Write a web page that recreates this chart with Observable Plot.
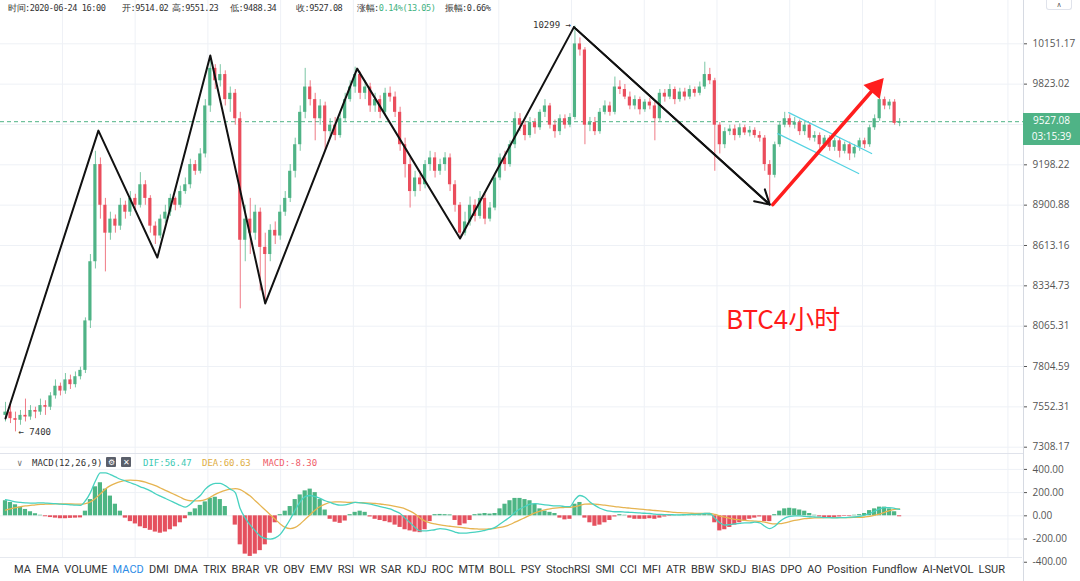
<!DOCTYPE html>
<html><head><meta charset="utf-8">
<script src="https://cdn.jsdelivr.net/npm/d3@7"></script>
<script src="https://cdn.jsdelivr.net/npm/@observablehq/plot@0.6"></script>
<style>
body{margin:0;background:#fff;}
#wrap{position:relative;width:1080px;height:581px;overflow:hidden;font-family:"Open Sans",sans-serif;background:#fff;}
#wrap svg{position:absolute;left:0;overflow:visible;}
.hd{position:absolute;top:3px;font:8.6px "DejaVu Sans Mono",monospace;letter-spacing:-0.45px;color:#333;white-space:nowrap;}
.mh{position:absolute;top:458px;font:9px "DejaVu Sans Mono",monospace;white-space:nowrap;}
.box{position:absolute;left:1023px;width:57px;background:#4fb386;color:#fff;font:10px "Open Sans",sans-serif;text-align:center;}
#tabs{position:absolute;left:0;top:557px;width:1022px;height:24px;background:#fff;border-top:1px solid #e6e9ef;display:flex;justify-content:space-between;align-items:center;box-sizing:border-box;padding:0 17px 0 14px;font:11px "Liberation Sans Narrow","Roboto",sans-serif;color:#333;}
.icon{position:absolute;top:457px;width:10px;height:10px;background:#5a5f6a;color:#fff;font-size:8px;line-height:10px;text-align:center;border-radius:1px;}
</style></head><body><div id="wrap"></div>
<script>
// ---- Data (BTC 4h) ----
const opens=[7500,7520,7480,7470,7500,7490,7530,7520,7560,7550,
7620,7680,7650,7720,7690,7740,7780,8100,8500,9200,
8900,8700,8800,8750,8900,8850,8950,8900,9050,8950,
8750,8680,8800,8850,8950,8900,9000,9050,9200,9150,
9280,9650,9950,9850,9900,9700,9750,9550,8650,8800,
8700,8850,8600,8550,8720,8680,8850,8950,9150,9350,
9600,9800,9700,9550,9650,9450,9500,9420,9550,9700,
9800,9900,9750,9800,9650,9700,9600,9750,9720,9600,
9350,9200,9000,9100,9050,9200,9250,9150,9200,9250,
9050,8900,8700,8780,8900,8820,8950,8800,8880,9100,
9250,9200,9350,9550,9500,9420,9520,9480,9600,9650,
9500,9450,9550,9500,9560,10150,10100,9500,9520,9450,
9600,9650,9600,9800,9780,9720,9650,9700,9620,9680,
9650,9550,9750,9720,9780,9700,9760,9720,9780,9750,
9800,9900,9850,9500,9350,9450,9470,9420,9480,9440,
9460,9420,9400,9200,9120,9350,9500,9550,9500,9520,
9450,9500,9400,9420,9350,9400,9330,9380,9300,9350,
9280,9330,9380,9350,9480,9550,9700,9650,9680,9514.02];
const highs=[7580,7560,7520,7530,7600,7560,7550,7600,7590,7640,
7720,7700,7760,7750,7770,7800,8120,8550,9300,9250,
8950,8850,8830,8950,8930,9000,8980,9140,9080,8970,
8780,8830,8900,8980,8960,9040,9100,9240,9230,9320,
9700,10020,9980,9980,9930,9800,9780,9600,8900,8950,
8900,8880,8700,8760,8780,8900,9000,9200,9400,9650,
9950,9850,9750,9700,9680,9550,9560,9600,9750,9850,
9960,9920,9850,9830,9750,9730,9790,9800,9760,9640,
9400,9250,9150,9150,9230,9300,9290,9240,9290,9280,
9080,8920,8850,8960,8940,9000,8980,8920,9120,9280,
9300,9380,9600,9590,9530,9560,9550,9620,9700,9670,
9540,9580,9580,9590,10299,10200,10120,9560,9560,9630,
9690,9680,9880,9850,9820,9760,9730,9720,9700,9710,
9680,9780,9780,9820,9800,9790,9790,9810,9800,9840,
10000,9950,9870,9520,9480,9500,9500,9510,9500,9490,
9480,9450,9420,9230,9370,9520,9600,9580,9560,9540,
9530,9520,9450,9440,9420,9420,9400,9400,9370,9370,
9350,9400,9400,9500,9580,9800,9720,9700,9700,9551.23];
const lows=[7460,7450,7400,7440,7460,7470,7480,7500,7500,7530,
7600,7620,7630,7660,7670,7720,7760,8050,8450,8800,
8430,8650,8700,8720,8800,8820,8850,8880,8900,8700,
8620,8660,8770,8820,8860,8880,8980,9020,9120,9130,
9250,9600,9780,9800,9650,9600,9500,8180,8500,8550,
8650,8300,8220,8500,8620,8650,8820,8920,9100,9300,
9550,9650,9380,9500,9300,9400,9380,9400,9520,9680,
9750,9700,9700,9600,9600,9550,9580,9680,9560,9300,
9100,8880,8960,9000,9020,9150,9100,9120,9150,9000,
8850,8660,8680,8750,8780,8800,8760,8780,8860,9080,
9150,9180,9320,9450,9380,9400,9430,9460,9560,9470,
9400,9420,9470,9480,9540,10050,9350,9450,9420,9430,
9580,9570,9580,9740,9700,9620,9620,9580,9600,9620,
9380,9530,9680,9700,9660,9680,9690,9700,9720,9730,
9780,9820,9150,9280,9320,9420,9380,9400,9420,9410,
9400,9370,9150,8920,9100,9330,9480,9480,9470,9420,
9420,9380,9370,9320,9320,9300,9300,9250,9280,9230,
9250,9300,9320,9330,9460,9530,9620,9620,9500,9488.34];
const closes=[7520,7480,7470,7500,7490,7530,7520,7560,7550,7620,
7680,7650,7720,7690,7740,7780,8100,8500,9200,8900,
8700,8800,8750,8900,8850,8950,8900,9050,8950,8750,
8680,8800,8850,8950,8900,9000,9050,9200,9150,9280,
9650,9950,9850,9900,9700,9750,9550,8650,8800,8700,
8850,8600,8550,8720,8680,8850,8950,9150,9350,9600,
9800,9700,9550,9650,9450,9500,9420,9550,9700,9800,
9900,9750,9800,9650,9700,9600,9750,9720,9600,9350,
9200,9000,9100,9050,9200,9250,9150,9200,9250,9050,
8900,8700,8780,8900,8820,8950,8800,8880,9100,9250,
9200,9350,9550,9500,9420,9520,9480,9600,9650,9500,
9450,9550,9500,9560,10150,10100,9500,9520,9450,9600,
9650,9600,9800,9780,9720,9650,9700,9620,9680,9650,
9550,9750,9720,9780,9700,9760,9720,9780,9750,9800,
9900,9850,9500,9350,9450,9470,9420,9480,9440,9460,
9420,9400,9200,9120,9350,9500,9550,9500,9520,9450,
9500,9400,9420,9350,9400,9330,9380,9300,9350,9280,
9330,9380,9350,9480,9550,9700,9650,9680,9514.02,9527.08];
const dif=[140,130,120,115,112,110,110,112,110,108,105,100,98,95,92,90,
130,200,300,370,
370,355,335,315,300,285,270,250,
235,215,190,170,150,130,110,90,75,
100,140,175,230,265,280,280,
260,230,200,60,-20,-80,-130,-175,-195,
-200,-190,-160,
-100,-30,50,120,165,175,
165,150,130,115,100,92,95,
105,115,112,108,
100,90,80,70,60,40,20,-20,-60,-100,-130,
-130,-125,-120,-110,-115,-125,-140,-150,-150,-145,
-140,-135,-125,-115,-100,-70,
-40,-10,30,60,80,100,105,
100,95,90,85,85,80,80,
140,175,160,
120,90,65,50,40,35,
35,32,30,28,25,22,20,15,12,10,10,8,8,10,12,12,15,20,20,
-20,-60,-80,-75,-70,-65,-60,-60,-55,-60,
-90,-110,-90,-50,
-20,-5,0,0,-5,
-8,-10,-12,-15,-15,-18,-15,-15,-12,-10,-5,
5,20,40,60,70,70,65,56.47];
const dea=[50,60,70,78,85,90,95,98,100,102,103,103,103,102,101,100,
105,120,150,190,
230,260,280,295,305,308,305,300,
290,275,260,240,220,200,180,160,140,
130,128,130,140,160,185,205,
220,230,235,225,200,170,130,90,50,
10,-30,-70,
-100,-110,-100,-70,-30,10,
50,80,100,115,120,120,118,
115,115,113,112,
110,106,102,96,90,82,72,60,40,15,-20,
-45,-60,-70,-78,-85,-90,-95,-100,-105,-110,
-112,-115,-115,-112,-108,-100,
-90,-75,-55,-35,-15,5,25,
40,52,60,66,70,72,74,
80,90,100,
102,100,96,92,86,80,
75,70,66,62,58,54,50,46,42,38,34,30,27,25,23,21,20,20,20,
12,0,-12,-22,-30,-35,-40,-43,-45,-48,
-55,-65,-70,-68,
-60,-50,-40,-32,-25,
-21,-18,-17,-16,-16,-16,-16,-16,-15,-14,-13,
-10,-5,5,15,30,45,55,60.63];
const macdHist=[130,115,95,75,55,35,18,5,-8,-15,-20,-25,-25,-22,-20,-18,
40,140,250,285,
230,170,100,40,-20,-50,-70,-95,
-110,-125,-140,-150,-140,-120,-95,-60,-25,
30,60,90,120,150,160,140,
80,0,-80,-250,-330,-350,-330,-300,-250,
-150,-60,10,
40,80,140,180,215,230,
200,140,50,-30,-55,-65,-45,
10,30,40,30,
-10,-30,-40,-50,-60,-80,-100,-120,-130,-140,-145,
-120,-50,10,12,10,8,-40,-85,-70,-40,
10,15,20,15,20,60,
100,130,150,150,140,130,100,
60,40,30,20,-20,-35,-30,
100,115,-20,
-60,-90,-80,-60,-40,-10,
10,5,-20,-30,-30,-30,-25,-30,-20,-10,-5,5,5,10,10,8,12,15,10,
-60,-130,-120,-100,-80,-60,-40,-30,-20,-10,
-50,-50,10,40,
60,65,60,50,40,
20,5,-10,-15,-15,-15,-10,-5,-5,5,10,
20,45,60,75,75,60,35,-8.3];
const priceTicks=[10151.17,9823.02,9505.48,9198.22,8900.88,8613.16,8334.73,8065.31,7804.59,7552.31,7308.17];
const priceTickLabels=[10151.17,9823.02,9198.22,8900.88,8613.16,8334.73,8065.31,7804.59,7552.31,7308.17];
const macdTicks=[400,200,0,-200,-400];
// hand-drawn wave annotation pivots (candle index, price)
const waveIdx=[0,18.6,30.4,41,52,70.4,91,113.8,153];
const wavePrice=[7481,9458,8529,10055,8216,9948,8662,10290,8905];
const redArrowIdx=[153.6,174.8];
const redArrowPrice=[8905,9830];
const chanUpIdx=[156.8,173.4], chanUpPrice=[9598,9283];
const chanLoIdx=[154.6,170.8], chanLoPrice=[9435,9133];
const tabs=["MA","EMA","VOLUME","MACD","DMI","DMA","TRIX","BRAR","VR","OBV","EMV","RSI","WR","SAR","KDJ","ROC","MTM","BOLL","PSY","StochRSI","SMI","CCI","MFI","ATR","BBW","SKDJ","BIAS","DPO","AO","Position","Fundflow","AI-NetVOL","LSUR"];

// ---- Build ----
const UP="#4fb386", DOWN="#ea4d5c", GRID="#eef1f6", RED="#ff1e1e";
const candles=closes.map((c,i)=>({i,o:opens[i],h:highs[i],l:lows[i],c}));
const lastC=closes[closes.length-1];
const xDomain=[-1,203.8];
const gridXTicks=d3.range(11.4,203,14.56);
const wave=waveIdx.map((x,k)=>({x,y:wavePrice[k]}));
const n=wave.length;
const wrap=document.getElementById("wrap");

const main=Plot.plot({
  width:1080,height:453,marginLeft:0,marginRight:57,marginTop:0,marginBottom:0,
  style:{fontFamily:"Open Sans, sans-serif",fontSize:"10px",background:"transparent"},
  x:{domain:xDomain,axis:null},
  y:{type:"log",domain:[7270.7,10515.6]},
  marks:[
    Plot.gridY(priceTicks,{stroke:GRID,strokeOpacity:1}),
    Plot.gridX(gridXTicks,{stroke:GRID,strokeOpacity:1}),
    Plot.ruleY([lastC],{stroke:UP,strokeDasharray:"4,3",strokeWidth:1}),
    Plot.ruleX(candles,{x:"i",y1:"l",y2:"h",stroke:d=>d.c>=d.o?UP:DOWN,strokeOpacity:0.75}),
    Plot.rect(candles,{x1:d=>d.i-0.32,x2:d=>d.i+0.32,y1:d=>Math.min(d.o,d.c),y2:d=>Math.max(d.o,d.c),fill:d=>d.c>=d.o?UP:DOWN}),
    Plot.line(wave,{x:"x",y:"y",stroke:"#111",strokeWidth:2}),
    Plot.arrow([0],{x1:()=>wave[n-2].x,y1:()=>wave[n-2].y,x2:()=>wave[n-1].x,y2:()=>wave[n-1].y,stroke:"#111",strokeWidth:2,headLength:12,bend:0}),
    Plot.line(chanUpIdx.map((x,k)=>({x,y:chanUpPrice[k]})),{x:"x",y:"y",stroke:"#55d3e2",strokeWidth:1.2}),
    Plot.line(chanLoIdx.map((x,k)=>({x,y:chanLoPrice[k]})),{x:"x",y:"y",stroke:"#55d3e2",strokeWidth:1.2}),
    Plot.line(redArrowIdx.map((x,k)=>({x,y:redArrowPrice[k]})),{x:"x",y:"y",stroke:RED,strokeWidth:3.5}),
    Plot.dot([{x:redArrowIdx[1],y:redArrowPrice[1]}],{x:"x",y:"y",symbol:"triangle",r:7,fill:RED,stroke:RED,rotate:41,dx:-3,dy:4}),
    Plot.text([{x:waveIdx[7],y:10299}],{x:"x",y:"y",text:()=>"10299 →",textAnchor:"end",dx:-3,dy:-1,fontSize:9,fontFamily:"DejaVu Sans Mono",fill:"#333"}),
    Plot.text([{x:2,y:7400}],{x:"x",y:"y",text:()=>"← 7400",textAnchor:"start",dx:3,fontSize:9,fontFamily:"DejaVu Sans Mono",fill:"#333"}),
    Plot.ruleX([xDomain[1]],{stroke:"#d6dae2"}),
    Plot.axisY(priceTickLabels,{anchor:"right",tickSize:3,tickPadding:6,tickFormat:d=>d.toFixed(2),fontSize:10,color:"#555",label:null})
  ]
});
main.style.top="0px";
wrap.appendChild(main);

const mdata=macdHist.map((h,i)=>({i,h,dif:dif[i],dea:dea[i]}));
const macdChart=Plot.plot({
  width:1080,height:128,marginLeft:0,marginRight:57,marginTop:0,marginBottom:0,
  style:{fontFamily:"Open Sans, sans-serif",fontSize:"10px",background:"transparent"},
  x:{domain:xDomain,axis:null},
  y:{domain:[-566,537]},
  marks:[
    Plot.gridY(macdTicks,{stroke:GRID,strokeOpacity:1}),
    Plot.gridX(gridXTicks,{stroke:GRID,strokeOpacity:1}),
    Plot.rect(mdata,{x1:d=>d.i-0.42,x2:d=>d.i+0.42,y1:0,y2:"h",fill:d=>d.h>=0?"#4db584":"#e5505e"}),
    Plot.line(mdata,{x:"i",y:"dea",stroke:"#e6b451",strokeWidth:1.3,curve:"monotone-x"}),
    Plot.line(mdata,{x:"i",y:"dif",stroke:"#48d2c0",strokeWidth:1.3,curve:"monotone-x"}),
    Plot.ruleY([537],{stroke:"#e0e3eb"}),
    Plot.ruleX([xDomain[1]],{stroke:"#d6dae2"}),
    Plot.axisY(macdTicks,{anchor:"right",tickSize:3,tickPadding:6,tickFormat:d=>d.toFixed(2),fontSize:10,color:"#555",label:null})
  ]
});
macdChart.style.top="453px";
wrap.appendChild(macdChart);

// ---- overlays ----
function add(html){wrap.insertAdjacentHTML("beforeend",html);}
const hdr=[["时间:2020-06-24 16:00",8],["开:9514.02",122],["高:9551.23",172],["低:9488.34",230],["收:9527.08",296],["振幅:0.66%",445]];
hdr.forEach(([t,x])=>add(`<div class="hd" style="left:${x}px">${t}</div>`));
add(`<div class="hd" style="left:357px">涨幅:<span style="color:#3fb27f">0.14%(13.05)</span></div>`);
add(`<div style="position:absolute;left:1046px;top:0px;width:24px;height:9px;border:1px solid #e0e3eb;border-top:none;border-radius:0 0 3px 3px;font:7px 'DejaVu Sans',sans-serif;line-height:10px;text-align:center;color:#555;background:#fff">∧</div>`);
const py=main.scale("y").apply(lastC);
add(`<div class="box" style="top:${py-8}px;height:14px;line-height:14px">${lastC.toFixed(2)}</div>`);
add(`<div class="box" style="top:${py+6}px;height:18px;line-height:18px">03:15:39</div>`);
add(`<div style="position:absolute;left:726px;top:301px;font:26px 'Noto Sans CJK SC','Noto Sans',sans-serif;color:#ff1a1a;line-height:34px">BTC4小时</div>`);
add(`<div class="mh" style="left:17px;color:#777">∨</div>`);
add(`<div class="mh" style="left:32px;color:#333">MACD(12,26,9)</div>`);
add(`<div class="icon" style="left:106px">⚙</div><div class="icon" style="left:121px">✕</div>`);
add(`<div class="mh" style="left:143px;color:#3cc9b4">DIF:${dif[dif.length-1].toFixed(2)}</div>`);
add(`<div class="mh" style="left:202px;color:#e0ae45">DEA:${dea[dea.length-1].toFixed(2)}</div>`);
add(`<div class="mh" style="left:263px;color:#ef5d6a">MACD:${macdHist[macdHist.length-1].toFixed(2)}</div>`);
add(`<div id="tabs">${tabs.map(t=>`<span style="color:${t==="MACD"?"#2d8ce6":"#333"}">${t}</span>`).join("")}</div>`);
</script></body></html>
